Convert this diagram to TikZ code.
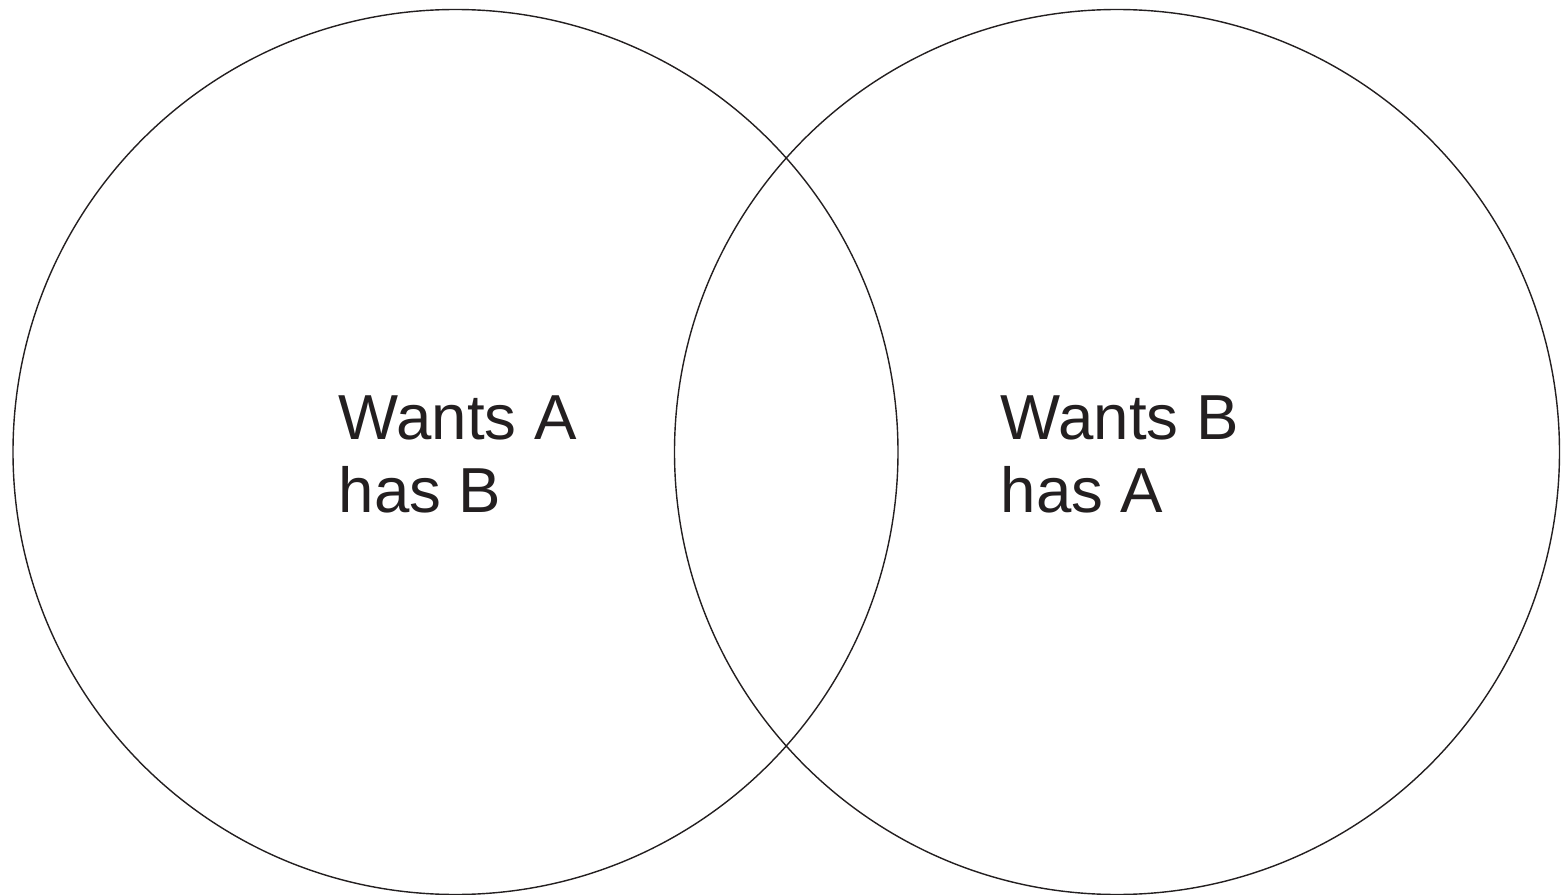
\documentclass[tikz,border=0pt]{standalone}
\usepackage{fontspec}
\setmainfont{Liberation Sans}
\usepackage{tikz}
\definecolor{ink}{RGB}{35,31,32}
\newcommand{\setfont}{\fontsize{18.1pt}{20.5pt}\selectfont}

\begin{document}
\begin{tikzpicture}[line width=0.4pt,
  ring/.style={draw=ink},
  label/.style={anchor=base west,align=left,inner sep=0pt,font=\setfont,text=ink}]
\useasboundingbox (0,0) rectangle (15.61,8.94);
\coordinate (cA) at (4.555,4.42);
\coordinate (cB) at (11.17,4.42);
\draw[ring] (cA) circle (4.425);
\draw[ring] (cB) circle (4.425);
\node[label] (wantsA) at (3.38,3.82) {Wants A\\has B};
\node[label] (wantsB) at (10.0,3.82) {Wants B\\has A};
\end{tikzpicture}
\end{document}
